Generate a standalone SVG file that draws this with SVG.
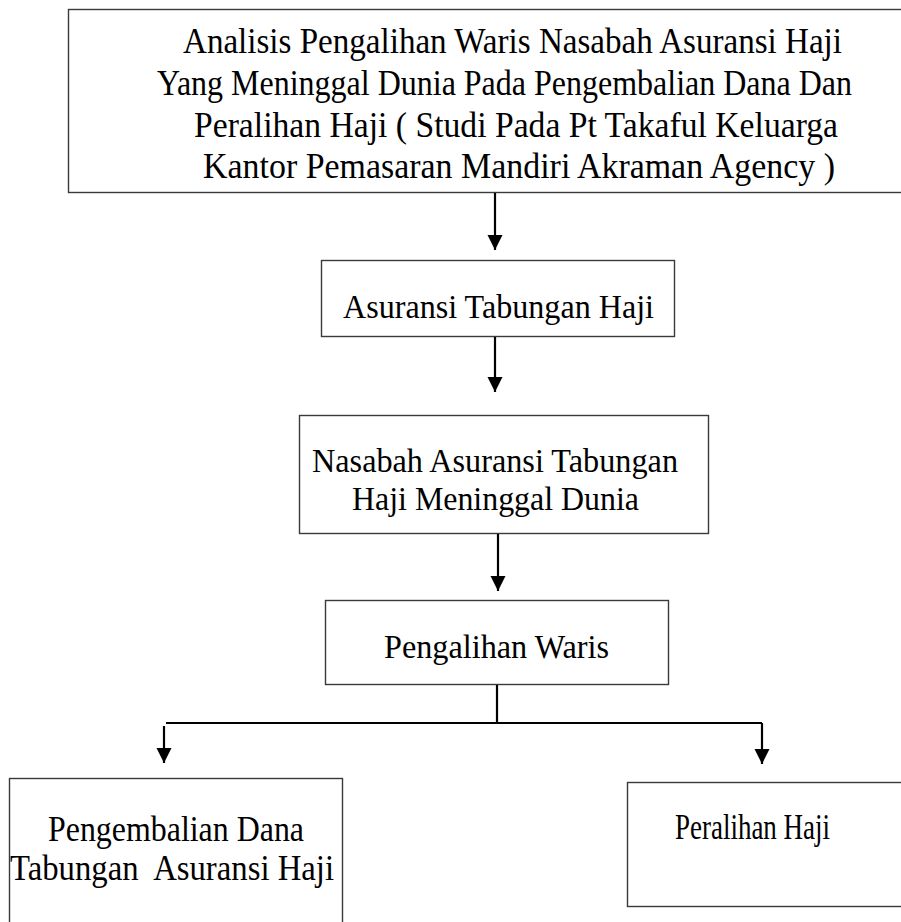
<svg xmlns="http://www.w3.org/2000/svg" width="901" height="922" viewBox="0 0 901 922">
<defs>
<style>
.box{fill:#fff;stroke:#3a3a3a;stroke-width:1.4}
.t{font-family:"Liberation Serif","Times New Roman",serif;font-size:33px;fill:#000;white-space:pre}
.tc{font-size:35px}
.c{stroke:#000;stroke-width:2.2;fill:none}
</style>
<marker id="ah" markerUnits="userSpaceOnUse" markerWidth="16" markerHeight="16" refX="15" refY="7.5" orient="auto">
<path d="M0,0 L15,7.5 L0,15 Z" fill="#000"/>
</marker>
</defs>
<rect width="901" height="922" fill="#fff"/>
<g id="n1">
<rect class="box" x="68.5" y="9.5" width="840" height="183"/>
<text class="t tc" x="183" y="53" textLength="659" lengthAdjust="spacingAndGlyphs">Analisis Pengalihan Waris Nasabah Asuransi Haji</text>
<text class="t tc" x="157" y="95" textLength="695" lengthAdjust="spacingAndGlyphs">Yang Meninggal Dunia Pada Pengembalian Dana Dan</text>
<text class="t tc" x="194" y="137" textLength="644" lengthAdjust="spacingAndGlyphs">Peralihan Haji ( Studi Pada Pt Takaful Keluarga</text>
<text class="t tc" x="203" y="178" textLength="632" lengthAdjust="spacingAndGlyphs">Kantor Pemasaran Mandiri Akraman Agency )</text>
</g>
<g id="n2">
<rect class="box" x="321.5" y="260.5" width="353" height="76"/>
<text class="t" x="343" y="318" textLength="311" lengthAdjust="spacingAndGlyphs">Asuransi Tabungan Haji</text>
</g>
<g id="n3">
<rect class="box" x="299.5" y="415.5" width="409" height="118"/>
<text class="t" x="312" y="472" textLength="366" lengthAdjust="spacingAndGlyphs">Nasabah Asuransi Tabungan</text>
<text class="t" x="352" y="510" textLength="287" lengthAdjust="spacingAndGlyphs">Haji Meninggal Dunia</text>
</g>
<g id="n4">
<rect class="box" x="325.5" y="600.5" width="343" height="84"/>
<text class="t" x="384" y="658" textLength="225" lengthAdjust="spacingAndGlyphs">Pengalihan Waris</text>
</g>
<g id="n5">
<rect class="box" x="9.5" y="778.5" width="333" height="160"/>
<text class="t tc" x="48" y="841" textLength="256" lengthAdjust="spacingAndGlyphs">Pengembalian Dana</text>
<text class="t tc" x="10" y="880" textLength="324" lengthAdjust="spacingAndGlyphs" xml:space="preserve">Tabungan  Asuransi Haji</text>
</g>
<g id="n6">
<rect class="box" x="627.5" y="782.5" width="290" height="124"/>
<text class="t tc" x="675" y="839" textLength="155" lengthAdjust="spacingAndGlyphs">Peralihan Haji</text>
</g>
<g id="connectors">
<line class="c" x1="495" y1="193" x2="495" y2="250" marker-end="url(#ah)"/>
<line class="c" x1="495" y1="337" x2="495" y2="392" marker-end="url(#ah)"/>
<line class="c" x1="498" y1="534" x2="498" y2="591" marker-end="url(#ah)"/>
<polyline class="c" points="497,685 497,723"/>
<line class="c" x1="166" y1="723" x2="762" y2="723"/>
<line class="c" x1="164" y1="726" x2="164" y2="763" marker-end="url(#ah)"/>
<line class="c" x1="762" y1="723" x2="762" y2="764" marker-end="url(#ah)"/>
</g>
</svg>
